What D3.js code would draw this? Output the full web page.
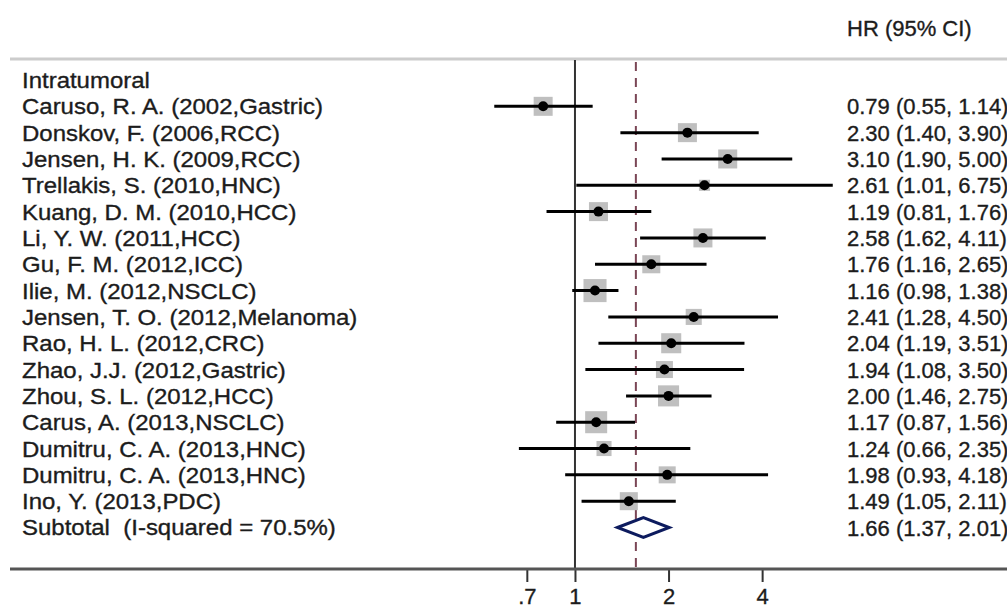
<!DOCTYPE html>
<html>
<head>
<meta charset="utf-8">
<script src="https://cdn.jsdelivr.net/npm/d3@7"></script>
<style>
  body { margin: 0; background: #fff; }
  text { font-family: "Liberation Sans", Arial, sans-serif; fill: #1c1c1c; stroke: #1c1c1c; stroke-width: 0.35px; white-space: pre; }
</style>
</head>
<body>
<div id="chart"></div>
<script>
const groupLabel = "Intratumoral";
const studies = [
  "Caruso, R. A. (2002,Gastric)", "Donskov, F. (2006,RCC)", "Jensen, H. K. (2009,RCC)",
  "Trellakis, S. (2010,HNC)", "Kuang, D. M. (2010,HCC)", "Li, Y. W. (2011,HCC)",
  "Gu, F. M. (2012,ICC)", "Ilie, M. (2012,NSCLC)", "Jensen, T. O. (2012,Melanoma)",
  "Rao, H. L. (2012,CRC)", "Zhao, J.J. (2012,Gastric)", "Zhou, S. L. (2012,HCC)",
  "Carus, A. (2013,NSCLC)", "Dumitru, C. A. (2013,HNC)", "Dumitru, C. A. (2013,HNC)",
  "Ino, Y. (2013,PDC)"
];
const hr    = [0.79, 2.30, 3.10, 2.61, 1.19, 2.58, 1.76, 1.16, 2.41, 2.04, 1.94, 2.00, 1.17, 1.24, 1.98, 1.49];
const lower = [0.55, 1.40, 1.90, 1.01, 0.81, 1.62, 1.16, 0.98, 1.28, 1.19, 1.08, 1.46, 0.87, 0.66, 0.93, 1.05];
const upper = [1.14, 3.90, 5.00, 6.75, 1.76, 4.11, 2.65, 1.38, 4.50, 3.51, 3.50, 2.75, 1.56, 2.35, 4.18, 2.11];
const weights = [7.0, 7.0, 7.0, 2.4, 7.0, 7.0, 6.3, 10.3, 5.0, 7.8, 5.6, 8.6, 9.4, 4.4, 5.6, 6.3];
const subtotal = { label: "Subtotal  (I-squared = 70.5%)", hr: 1.66, lower: 1.37, upper: 2.01 };
const overallHR = 1.57; // pooled line across all subgroups
const tickValues = [0.7, 1, 2, 4];
const tickLabels = [".7", "1", "2", "4"];

const width = 1007, height = 612;
const svg = d3.select("#chart").append("svg").attr("width", width).attr("height", height);

const x = d3.scaleLog().domain([0.5, 8]).range([481.4, 855.7]);
const y = d3.scaleLinear().domain([0, studies.length + 1]).range([80, 527.5]);
const side = d3.scaleSqrt().domain([0, 7]).range([0, 19]);
const fmt = d3.format(".2f");
const topY = 59, bottomY = 569;
const fs = 22, stretch = 1.09;

// table borders
svg.append("line").attr("x1", 10).attr("x2", width).attr("y1", topY).attr("y2", topY)
  .attr("stroke", "#ccc").attr("stroke-width", 3);

// header
svg.append("text").attr("x", 847).attr("y", 36).attr("font-size", fs).text("HR (95% CI)");

// reference lines
svg.append("line").attr("x1", x(1)).attr("x2", x(1)).attr("y1", topY + 1).attr("y2", bottomY)
  .attr("stroke", "#333").attr("stroke-width", 2);
svg.append("line").attr("x1", x(overallHR)).attr("x2", x(overallHR)).attr("y1", topY + 3).attr("y2", bottomY)
  .attr("stroke", "#7a4655").attr("stroke-width", 2).attr("stroke-dasharray", "9,7");

// left labels (slightly wider in the original)
const labels = [groupLabel].concat(studies, [subtotal.label]);
svg.append("g").attr("transform", `scale(${stretch},1)`)
  .selectAll("text").data(labels).join("text")
  .attr("x", 22 / stretch).attr("y", (d, i) => y(i) + 8)
  .attr("font-size", fs)
  .text(d => d);

// study rows
const rows = svg.append("g").selectAll("g").data(studies).join("g");
rows.append("rect")
  .attr("x", (d, i) => x(hr[i]) - side(weights[i]) / 2)
  .attr("y", (d, i) => y(i + 1) - side(weights[i]) / 2)
  .attr("width", (d, i) => side(weights[i]))
  .attr("height", (d, i) => side(weights[i]))
  .attr("fill", "#bfbfbf");
rows.append("line")
  .attr("x1", (d, i) => x(lower[i])).attr("x2", (d, i) => x(upper[i]))
  .attr("y1", (d, i) => y(i + 1)).attr("y2", (d, i) => y(i + 1))
  .attr("stroke", "#000").attr("stroke-width", 3);
rows.append("circle")
  .attr("cx", (d, i) => x(hr[i])).attr("cy", (d, i) => y(i + 1))
  .attr("r", 5).attr("fill", "#000");
rows.append("text")
  .attr("x", 847).attr("y", (d, i) => y(i + 1) + 8)
  .attr("font-size", fs)
  .text((d, i) => `${fmt(hr[i])} (${fmt(lower[i])}, ${fmt(upper[i])})`);

// subtotal diamond
const sy = y(studies.length + 1);
svg.append("path")
  .attr("d", `M${x(subtotal.lower)},${sy} L${x(subtotal.hr)},${sy - 10} L${x(subtotal.upper)},${sy} L${x(subtotal.hr)},${sy + 10} Z`)
  .attr("fill", "#fff").attr("stroke", "#0d1b5e").attr("stroke-width", 3);
svg.append("text").attr("x", 847).attr("y", sy + 8).attr("font-size", fs)
  .text(`${fmt(subtotal.hr)} (${fmt(subtotal.lower)}, ${fmt(subtotal.upper)})`);

// axis
const axis = svg.append("g").attr("transform", `translate(0,${bottomY})`)
  .call(d3.axisBottom(x).tickValues(tickValues).tickFormat((d, i) => tickLabels[i]).tickSize(13).tickPadding(6));
axis.select(".domain").remove();
axis.selectAll(".tick line").attr("stroke", "#333").attr("stroke-width", 2);
axis.selectAll(".tick text").attr("font-size", fs).attr("font-family", "Liberation Sans, Arial, sans-serif");

svg.append("line").attr("x1", 10).attr("x2", width).attr("y1", bottomY).attr("y2", bottomY)
  .attr("stroke", "#555").attr("stroke-width", 3);
</script>
</body>
</html>
